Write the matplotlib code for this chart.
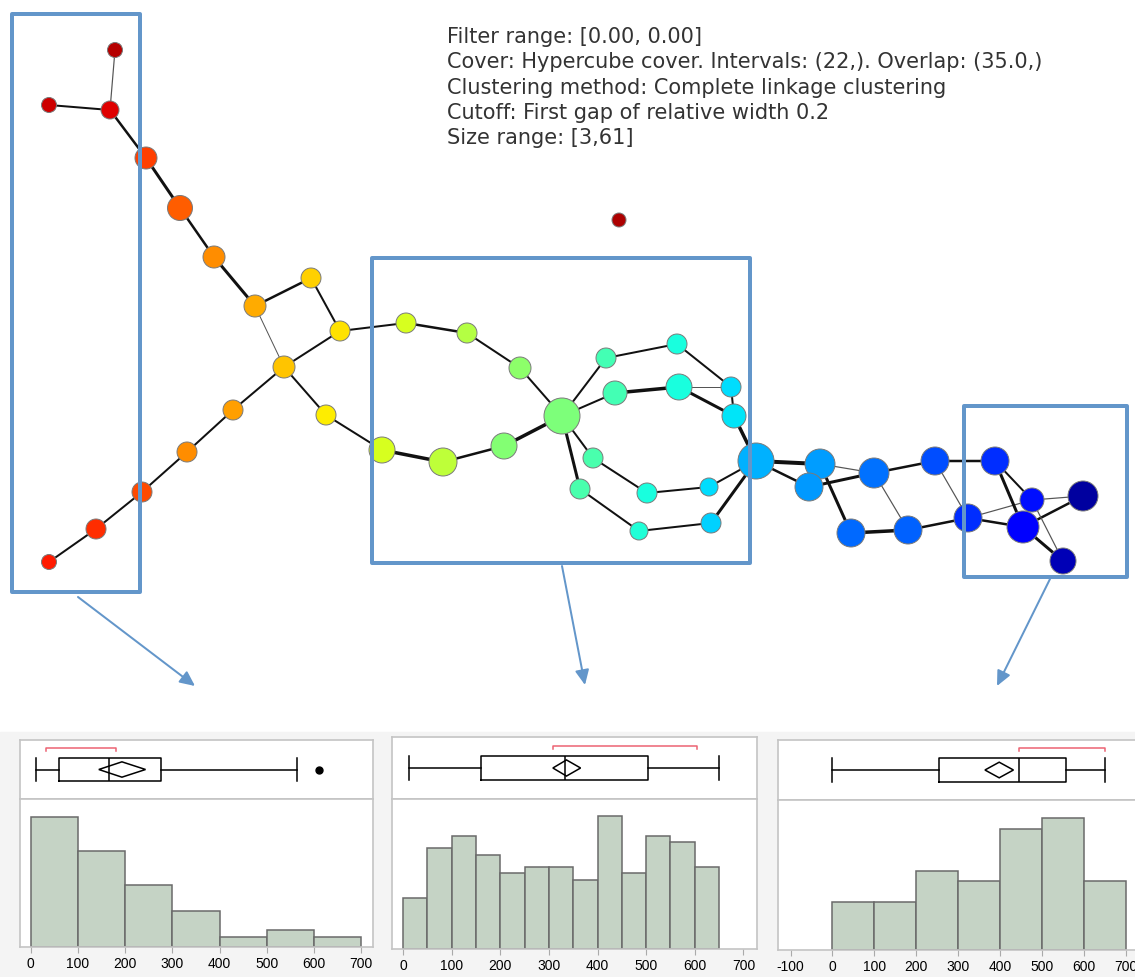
import numpy as np
import matplotlib
matplotlib.use("Agg")
import matplotlib.pyplot as plt
from matplotlib.patches import Rectangle, Polygon

plt.rcParams["axes.unicode_minus"] = False

W, H = 1135, 977

# ---- Mapper graph: node layout (pixel coords), cluster size and filter value ----
node_names = ["A", "B", "C", "D", "E", "F", "G", "H", "I", "J", "K",
              "L", "M", "N", "O", "P",
              "R", "S", "T", "U", "Q", "V", "W",
              "X1", "X2", "X3", "Y1", "Y2", "Y3", "Z1", "Z2", "Z3",
              "W1", "W2", "W3", "HB",
              "AA", "AB", "AC", "AD", "AE", "AF", "AG", "AH", "AI", "AJ", "AK", "AL",
              "ISO"]
node_x = [115, 49, 110, 146, 180, 214, 255, 311, 340, 284, 326,
          233, 187, 142, 96, 49,
          406, 467, 520, 562, 382, 443, 504,
          606, 677, 731, 615, 679, 734, 593, 647, 709,
          580, 639, 711, 756,
          820, 809, 874, 935, 995, 851, 908, 968, 1032, 1083, 1023, 1063,
          619]
node_y = [50, 105, 110, 158, 208, 257, 306, 278, 331, 367, 415,
          410, 452, 492, 529, 562,
          323, 333, 368, 416, 450, 462, 446,
          358, 344, 387, 393, 387, 416, 458, 493, 487,
          489, 531, 523, 461,
          464, 487, 473, 461, 461, 533, 530, 518, 500, 496, 527, 561,
          220]
node_r = [7.5, 7.5, 9, 11, 12.5, 11, 11, 10, 10, 11, 10,
          10, 10, 10, 10, 7.5,
          10, 10, 11, 18, 13, 14, 13,
          10, 10, 10, 12, 13, 12, 10, 10, 9,
          10, 9, 10, 18,
          15, 14, 15, 14, 14, 14, 14, 14, 12, 15, 16, 13,
          7]
node_val = [0.95, 0.93, 0.915, 0.84, 0.81, 0.76, 0.73, 0.69, 0.67, 0.70, 0.66,
            0.74, 0.76, 0.83, 0.86, 0.88,
            0.61, 0.57, 0.52, 0.50, 0.61, 0.58, 0.51,
            0.43, 0.38, 0.34, 0.43, 0.38, 0.35, 0.44, 0.38, 0.34,
            0.44, 0.39, 0.33, 0.30,
            0.28, 0.275, 0.235, 0.20, 0.17, 0.23, 0.22, 0.17, 0.14, 0.03, 0.12, 0.05,
            0.96]

# edges: (from, to, width in px)
edges = [("A", "C", 1.2), ("B", "C", 2), ("C", "D", 2.5), ("D", "E", 3),
         ("E", "F", 2.5), ("F", "G", 3), ("G", "H", 2.5), ("H", "I", 2),
         ("G", "J", 1), ("I", "J", 2), ("J", "K", 2), ("J", "L", 2),
         ("L", "M", 2), ("M", "N", 2), ("N", "O", 2), ("O", "P", 2),
         ("I", "R", 2), ("R", "S", 2.5), ("S", "T", 2), ("T", "U", 2),
         ("K", "Q", 2), ("Q", "V", 3.5), ("V", "W", 2.5), ("W", "U", 3.5),
         ("U", "X1", 2), ("X1", "X2", 2), ("X2", "X3", 2), ("X3", "Y3", 2),
         ("Y2", "X3", 1), ("U", "Y1", 2), ("Y1", "Y2", 3.5), ("Y2", "Y3", 3),
         ("Y3", "HB", 3.5), ("U", "Z1", 2), ("Z1", "Z2", 2), ("Z2", "Z3", 2),
         ("Z3", "HB", 2), ("U", "W1", 3), ("W1", "W2", 2), ("W2", "W3", 2),
         ("W3", "HB", 3), ("HB", "AA", 4), ("HB", "AB", 2.5), ("AA", "AC", 1.2),
         ("AB", "AC", 3), ("AA", "AF", 3), ("AC", "AD", 2.5), ("AC", "AG", 1.2),
         ("AD", "AE", 2.5), ("AD", "AH", 1.2), ("AF", "AG", 3.5), ("AG", "AH", 2.5),
         ("AH", "AK", 2.5), ("AH", "AI", 1.2), ("AE", "AK", 3), ("AE", "AI", 2),
         ("AI", "AJ", 1.2), ("AK", "AJ", 2.5), ("AK", "AL", 3), ("AI", "AL", 1.2)]

info_lines = ["Filter range: [0.00, 0.00]",
              "Cover: Hypercube cover. Intervals: (22,). Overlap: (35.0,)",
              "Clustering method: Complete linkage clustering",
              "Cutoff: First gap of relative width 0.2",
              "Size range: [3,61]"]

# ---- distributions of the three highlighted regions ----
left_edges = [0, 100, 200, 300, 400, 500, 600, 700]
left_counts = [38, 28, 18, 10.5, 3, 5, 3]
left_box = [10, 60, 166, 275, 565]          # whisker lo, q1, median, q3, whisker hi
left_fliers = [610]
left_mean_ci = [144, 193, 243]
left_short_half = [33, 180]

mid_edges = [0, 50, 100, 150, 200, 250, 300, 350, 400, 450, 500, 550, 600, 650]
mid_counts = [7.7, 15.2, 17.1, 14.2, 11.4, 12.4, 12.4, 10.4, 20.0, 11.4, 17.1, 16.1, 12.4]
mid_box = [12, 160, 333, 504, 650]
mid_fliers = []
mid_mean_ci = [308, 336, 365]
mid_short_half = [309, 604]

right_edges = [0, 100, 200, 300, 400, 500, 600, 700]
right_counts = [4.5, 4.5, 7.5, 6.5, 11.5, 12.5, 6.5]
right_box = [0, 255, 446, 558, 651]
right_fliers = []
right_mean_ci = [364, 398, 432]
right_short_half = [446, 651]

BLUE = "#6396ca"

fig = plt.figure(figsize=(W / 100, H / 100), dpi=100)
ax = fig.add_axes([0, 0, 1, 1])
ax.set_xlim(0, W)
ax.set_ylim(H, 0)
ax.axis("off")

px = 0.72  # points per pixel at 100 dpi
idx = {n: i for i, n in enumerate(node_names)}
for a, b, w in edges:
    i, j = idx[a], idx[b]
    col = "#555555" if w < 1.5 else "#111111"
    ax.plot([node_x[i], node_x[j]], [node_y[i], node_y[j]], color=col,
            lw=w * px, solid_capstyle="round", zorder=2)

cmap = plt.get_cmap("jet")
sizes = [(2 * r * px) ** 2 for r in node_r]
ax.scatter(node_x, node_y, s=sizes, c=node_val, cmap=cmap, vmin=0, vmax=1,
           edgecolors="#7a7a7a", linewidths=0.7, zorder=3)

for k, line in enumerate(info_lines):
    ax.text(447, 37 + 25.3 * k, line, fontsize=15, color="#333333",
            va="center", ha="left", family="DejaVu Sans")

# highlight boxes and arrows pointing to the histograms
for (l, t, r, b) in [(12, 14, 140, 592), (372, 258, 750, 563), (964, 406, 1127, 577)]:
    ax.add_patch(Rectangle((l, t), r - l, b - t, fill=False, ec=BLUE,
                           lw=4 * px, joinstyle="round", zorder=4))
for (x0, y0), (x1, y1) in [((78, 597), (195, 686)), ((562, 566), (585, 685)),
                           ((1050, 579), (997, 686))]:
    ax.annotate("", xy=(x1, y1), xytext=(x0, y0),
                arrowprops=dict(arrowstyle="-|>,head_length=0.9,head_width=0.42",
                                color=BLUE, lw=2 * px, shrinkA=0, shrinkB=0),
                zorder=4)

# grey backdrop behind the distribution panels
ax.add_patch(Rectangle((0, 732), W, H - 732, color="#f4f4f4", zorder=0))


def frac(l, t, r, b):
    return [l / W, 1 - b / H, (r - l) / W, (b - t) / H]


def panel(l, t, sep, r, b, xlim, ticks, bin_edges, counts, ymax, box, fliers,
          mean_ci, short_half):
    axb = fig.add_axes(frac(l, t, r, sep))
    axh = fig.add_axes(frac(l, sep, r, b))
    for a in (axb, axh):
        a.set_xlim(*xlim)
        a.set_facecolor("white")
        for s in a.spines.values():
            s.set_color("#c4c4c4")
            s.set_linewidth(1.2)
        a.set_yticks([])

    # histogram
    widths = np.diff(bin_edges)
    axh.bar(bin_edges[:-1], counts, width=widths, align="edge", color="#c5d3c5",
            edgecolor="#6a6a6a", linewidth=1.1)
    axh.set_ylim(0, ymax)
    axh.set_xticks(ticks)
    axh.tick_params(axis="x", direction="out", length=4, color="#aaaaaa",
                    labelsize=10, pad=3)
    for lab in axh.get_xticklabels():
        lab.set_family("Liberation Sans")

    # outlier box plot with mean diamond and shortest-half bracket
    axb.set_xticks([])
    axb.set_ylim(0, 1)
    c = 0.5
    stats = [dict(whislo=box[0], q1=box[1], med=box[2], q3=box[3], whishi=box[4],
                  fliers=fliers)]
    line = dict(color="black", linewidth=1.1)
    axb.bxp(stats, positions=[c], widths=0.39, capwidths=0.39,
            orientation="horizontal", boxprops=line, whiskerprops=line,
            capprops=line, medianprops=line,
            flierprops=dict(marker="o", markerfacecolor="black",
                            markeredgecolor="black", markersize=5))
    lo, mean, hi = mean_ci
    dh = 0.13
    axb.add_patch(Polygon([(lo, c), (mean, c + dh), (hi, c), (mean, c - dh)],
                          closed=True, fill=False, ec="black", lw=1.1))
    yb = 0.86
    axb.plot([short_half[0], short_half[0], short_half[1], short_half[1]],
             [yb - 0.05, yb, yb, yb - 0.05], color="#ec6373", lw=1.1)
    axb.set_yticks([])


panel(20, 740, 799, 373, 947, (-23, 725), range(0, 701, 100),
      left_edges, left_counts, 43.3, left_box, left_fliers, left_mean_ci,
      left_short_half)
panel(392, 737, 799, 757, 949, (-23, 728), range(0, 701, 100),
      mid_edges, mid_counts, 22.6, mid_box, mid_fliers, mid_mean_ci,
      mid_short_half)
panel(778, 740, 800, 1150, 950, (-130, 758), range(-100, 701, 100),
      right_edges, right_counts, 14.2, right_box, right_fliers, right_mean_ci,
      right_short_half)

fig.savefig("out.png", dpi=100)
